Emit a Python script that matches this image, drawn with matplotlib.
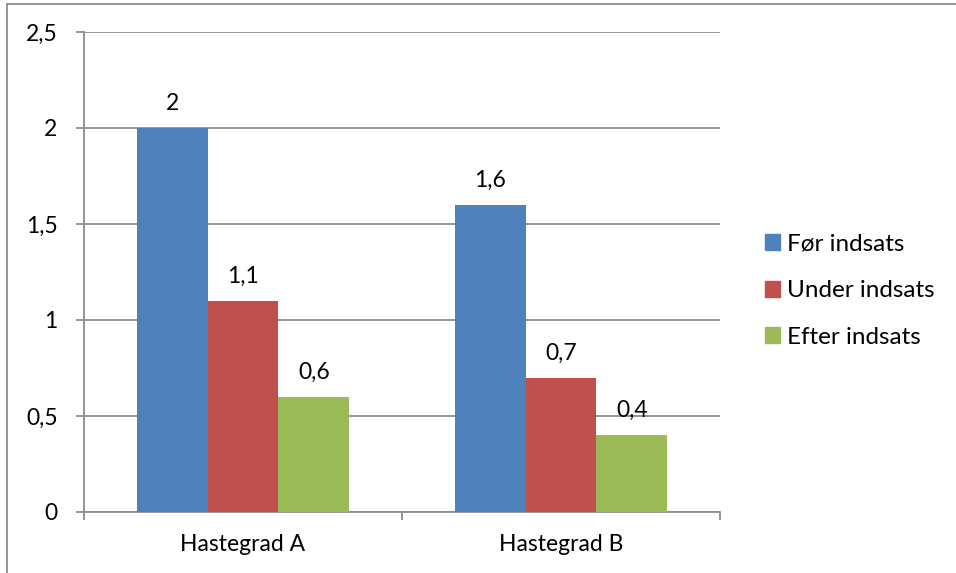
import numpy as np
import matplotlib.pyplot as plt
from matplotlib.lines import Line2D
from matplotlib.patches import Patch

categories = ["Hastegrad A", "Hastegrad B"]
series_names = ["Før indsats", "Under indsats", "Efter indsats"]
foer = [2.0, 1.6]
under = [1.1, 0.7]
efter = [0.6, 0.4]
colors = ["#4F81BD", "#C0504D", "#9BBB59"]

plt.rcParams['font.family'] = ['Lato', 'DejaVu Sans']
FS = 16.5

fig = plt.figure(figsize=(9.56, 5.73), dpi=100)
ax = fig.add_axes([84 / 956, 1 - 512 / 573, 636 / 956, 480 / 573])

x = np.arange(len(categories))
width = 0.223
for i, (vals, name) in enumerate(zip([foer, under, efter], series_names)):
    pos = x + (i - 1) * width
    ax.bar(pos, vals, width, color=colors[i], label=name, zorder=3)
    for p, v in zip(pos, vals):
        ax.annotate(f"{v:g}".replace(".", ","), (p, v), xytext=(0, 13),
                    textcoords="offset points", ha="center", va="baseline",
                    fontsize=FS)

ax.set_xlim(-0.5, 1.5)
ax.set_ylim(0, 2.5)
yt = np.arange(0, 2.51, 0.5)
ax.set_yticks(yt)
ax.set_yticklabels([f"{t:g}".replace(".", ",") for t in yt], fontsize=FS)
ax.yaxis.grid(True, color="#8C8C8C", linewidth=1.3, zorder=0)
ax.set_axisbelow(True)

# category ticks sit on the boundaries, labels at the centres
ax.set_xticks([-0.5, 0.5, 1.5])
ax.set_xticklabels([])
ax.set_xticks(x, minor=True)
ax.set_xticklabels(categories, minor=True, fontsize=FS)
ax.tick_params(axis="x", which="major", length=6, color="#8C8C8C", width=1.3)
ax.tick_params(axis="x", which="minor", length=0, pad=16)
ax.tick_params(axis="y", length=6, color="#8C8C8C", width=1.3, pad=13)

for side in ["top", "right"]:
    ax.spines[side].set_visible(False)
for side in ["left", "bottom"]:
    ax.spines[side].set_color("#8C8C8C")
    ax.spines[side].set_linewidth(1.3)

handles = [Patch(color=c) for c in colors]
fig.legend(handles, series_names, loc="upper left",
           bbox_to_anchor=(743 / 956, 1 - 212 / 573), frameon=False,
           fontsize=17.5, handlelength=0.62, handleheight=0.62,
           handletextpad=0.3, labelspacing=1.05)

# outer frame of the chart area
fig.add_artist(Line2D([7 / 956, 7 / 956], [0, 1 - 4 / 573],
                      color="#8C8C8C", linewidth=1.3))
fig.add_artist(Line2D([7 / 956, 1], [1 - 4 / 573, 1 - 4 / 573],
                      color="#8C8C8C", linewidth=1.3))

fig.savefig("out.png", dpi=100)
